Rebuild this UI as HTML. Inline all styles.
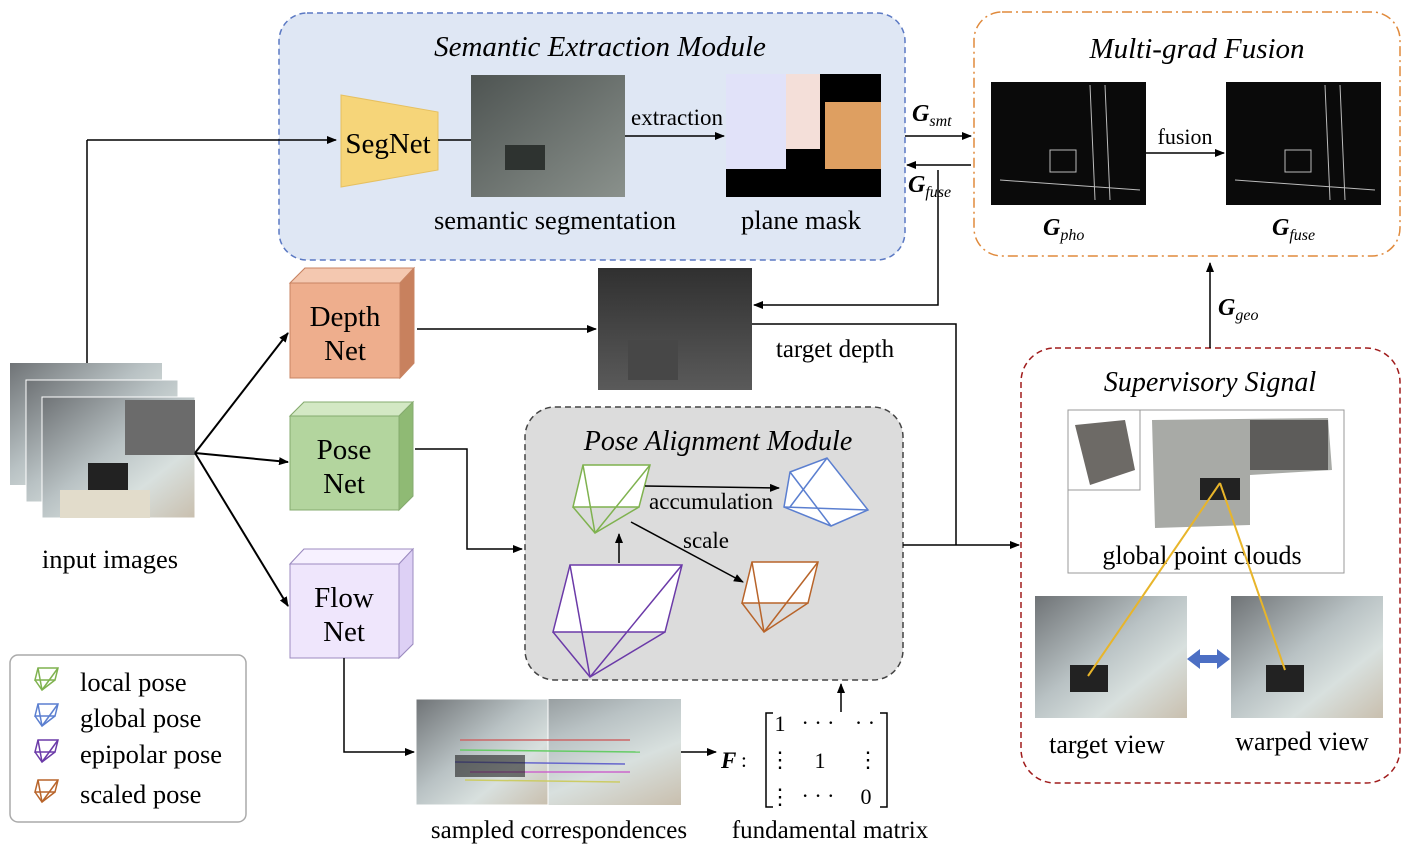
<!DOCTYPE html>
<html><head><meta charset="utf-8"><style>
html,body{margin:0;padding:0;background:#fff;}
svg{display:block;font-family:"Liberation Serif",serif;}
</style></head><body>
<svg width="1417" height="849" viewBox="0 0 1417 849" xmlns="http://www.w3.org/2000/svg">
<defs>
<marker id="a" markerWidth="10" markerHeight="8" refX="9" refY="4" orient="auto" markerUnits="userSpaceOnUse"><path d="M0,0 L10,4 L0,8 z" fill="#000"/></marker>
<linearGradient id="room" x1="0" y1="0" x2="1" y2="1"><stop offset="0" stop-color="#6f7376"/><stop offset="0.45" stop-color="#b9c2c4"/><stop offset="0.7" stop-color="#d8e0de"/><stop offset="1" stop-color="#c9bfae"/></linearGradient>
<linearGradient id="dep" x1="0" y1="0" x2="0" y2="1"><stop offset="0" stop-color="#303030"/><stop offset="1" stop-color="#5a5a5a"/></linearGradient>
<linearGradient id="seg" x1="0" y1="0" x2="1" y2="1"><stop offset="0" stop-color="#4e5452"/><stop offset="1" stop-color="#8a918c"/></linearGradient>
</defs>

<rect x="279" y="13" width="626" height="247" rx="28" fill="#dfe7f4" stroke="#5b79c3" stroke-width="1.5" stroke-dasharray="6,4"/>
<text x="600" y="56" font-size="29" font-style="italic" text-anchor="middle">Semantic Extraction Module</text>
<polygon points="341,95 438,112 438,170 341,187" fill="#f6d579" stroke="#e6c060"/>
<text x="388" y="153" font-size="29" text-anchor="middle">SegNet</text>
<line x1="438" y1="140" x2="471" y2="140" stroke="#000" stroke-width="1.5"/>
<rect x="471" y="75" width="154" height="122" fill="url(#seg)"/>
<rect x="505" y="145" width="40" height="25" fill="#2e3330"/>
<line x1="625" y1="136" x2="724" y2="136" stroke="#000" stroke-width="1.5" marker-end="url(#a)"/>
<text x="677" y="125" font-size="23" text-anchor="middle">extraction</text>
<rect x="726" y="74" width="155" height="123" fill="#000"/>
<rect x="726" y="74" width="60" height="95" fill="#e1e2f9"/>
<rect x="786" y="74" width="34" height="75" fill="#f4dfd9"/>
<rect x="825" y="102" width="56" height="67" fill="#de9f61"/>
<text x="555" y="229" font-size="26.5" text-anchor="middle">semantic segmentation</text>
<text x="801" y="229" font-size="26.5" text-anchor="middle">plane mask</text>

<rect x="974" y="12" width="426" height="244" rx="28" fill="#fff" stroke="#e08a3c" stroke-width="1.5" stroke-dasharray="10,4,2,4"/>
<text x="1197" y="58" font-size="29" font-style="italic" text-anchor="middle">Multi-grad Fusion</text>
<rect x="991" y="82" width="155" height="123" fill="#0a0a0a"/>
<rect x="1226" y="82" width="155" height="123" fill="#0a0a0a"/>
<g stroke="#bbb" stroke-width="1" fill="none"><rect x="1050" y="150" width="26" height="22"/><path d="M1090,85 L1095,200 M1105,85 L1110,200 M1000,180 L1140,190"/><rect x="1285" y="150" width="26" height="22"/><path d="M1325,85 L1330,200 M1340,85 L1345,200 M1235,180 L1375,190"/></g>
<line x1="1146" y1="153" x2="1224" y2="153" stroke="#000" stroke-width="1.5" marker-end="url(#a)"/>
<text x="1185" y="144" font-size="22" text-anchor="middle">fusion</text>
<text x="1043" y="235" font-size="24" font-weight="bold" font-style="italic">G<tspan font-size="16" font-weight="normal" dy="5">pho</tspan></text>
<text x="1272" y="235" font-size="24" font-weight="bold" font-style="italic">G<tspan font-size="16" font-weight="normal" dy="5">fuse</tspan></text>

<line x1="905" y1="136" x2="971" y2="136" stroke="#000" stroke-width="1.5" marker-end="url(#a)"/>
<text x="912" y="121" font-size="24" font-weight="bold" font-style="italic">G<tspan font-size="16" font-weight="normal" dy="5">smt</tspan></text>
<line x1="971" y1="165" x2="907" y2="165" stroke="#000" stroke-width="1.5" marker-end="url(#a)"/>
<text x="908" y="192" font-size="24" font-weight="bold" font-style="italic">G<tspan font-size="16" font-weight="normal" dy="5">fuse</tspan></text>
<polyline points="938,170 938,305 754,305" fill="none" stroke="#000" stroke-width="1.5" marker-end="url(#a)"/>

<rect x="10" y="363" width="152" height="122" fill="url(#room)"/>
<rect x="26" y="380" width="152" height="122" fill="url(#room)" stroke="#fff"/>
<rect x="42" y="397" width="153" height="121" fill="url(#room)" stroke="#fff"/>
<rect x="125" y="400" width="70" height="55" fill="#6b6b6b"/>
<rect x="88" y="463" width="40" height="28" fill="#222"/>
<rect x="60" y="490" width="90" height="28" fill="#e2dccb"/>
<text x="110" y="568" font-size="26.5" text-anchor="middle">input images</text>
<line x1="87" y1="363" x2="87" y2="140" stroke="#000" stroke-width="1.5"/>
<line x1="87" y1="140" x2="336" y2="140" stroke="#000" stroke-width="1.5" marker-end="url(#a)"/>
<line x1="195" y1="453" x2="288" y2="333" stroke="#000" stroke-width="2" marker-end="url(#a)"/>
<line x1="195" y1="453" x2="288" y2="462" stroke="#000" stroke-width="2" marker-end="url(#a)"/>
<line x1="195" y1="453" x2="288" y2="606" stroke="#000" stroke-width="2" marker-end="url(#a)"/>

<g>
<polygon points="290,283 305,268 414,268 414,363 400,378 290,378" fill="#eeae8d" stroke="#c88463"/>
<polygon points="290,283 305,268 414,268 400,283" fill="#f4c8b0" stroke="#c88463"/>
<polygon points="400,283 414,268 414,363 400,378" fill="#c8815e" stroke="#c88463"/>
<text x="345" y="326" font-size="29" text-anchor="middle">Depth</text><text x="345" y="360" font-size="29" text-anchor="middle">Net</text>
</g>
<g>
<polygon points="290,416 304,402 413,402 413,496 399,510 290,510" fill="#b3d59e" stroke="#86ab6f"/>
<polygon points="290,416 304,402 413,402 399,416" fill="#d3e8c4" stroke="#86ab6f"/>
<polygon points="399,416 413,402 413,496 399,510" fill="#8fba74" stroke="#86ab6f"/>
<text x="344" y="459" font-size="29" text-anchor="middle">Pose</text><text x="344" y="493" font-size="29" text-anchor="middle">Net</text>
</g>
<g>
<polygon points="290,564 304,549 413,549 413,644 399,658 290,658" fill="#efe6fc" stroke="#9c8bc0"/>
<polygon points="290,564 304,549 413,549 399,564" fill="#f7f1ff" stroke="#9c8bc0"/>
<polygon points="399,564 413,549 413,644 399,658" fill="#ddd0f5" stroke="#9c8bc0"/>
<text x="344" y="607" font-size="29" text-anchor="middle">Flow</text><text x="344" y="641" font-size="29" text-anchor="middle">Net</text>
</g>

<rect x="598" y="268" width="154" height="122" fill="url(#dep)"/>
<rect x="628" y="340" width="50" height="40" fill="#474747"/>
<line x1="417" y1="329" x2="596" y2="329" stroke="#000" stroke-width="1.5" marker-end="url(#a)"/>
<text x="835" y="357" font-size="25" text-anchor="middle">target depth</text>
<polyline points="752,324 956,324 956,545" fill="none" stroke="#000" stroke-width="1.5"/>

<rect x="525" y="407" width="378" height="273" rx="30" fill="#dcdcdc" stroke="#444" stroke-width="1.5" stroke-dasharray="6,4"/>
<text x="718" y="450" font-size="28" font-style="italic" text-anchor="middle">Pose Alignment Module</text>
<polyline points="415,449 467,449 467,549 522,549" fill="none" stroke="#000" stroke-width="1.5" marker-end="url(#a)"/>
<line x1="903" y1="545" x2="1019" y2="545" stroke="#000" stroke-width="1.5" marker-end="url(#a)"/>
<g fill="#fff" stroke-width="1.5">
<g stroke="#7fb24f"><polygon points="583,465 650,465 639,507 573,507"/><polyline points="573,507 595,533 639,507" fill="none"/><line x1="583" y1="465" x2="595" y2="533"/><line x1="650" y1="465" x2="595" y2="533"/></g>
<g stroke="#5b7fd0"><polygon points="790,472 827,458 868,510 831,526 784,507"/><line x1="790" y1="472" x2="831" y2="526"/><line x1="827" y1="458" x2="790" y2="507"/><line x1="784" y1="507" x2="868" y2="510"/></g>
<g stroke="#6b3aa8"><polygon points="570,565 682,565 665,632 553,632"/><polyline points="553,632 590,677 665,632" fill="none"/><line x1="570" y1="565" x2="590" y2="677"/><line x1="682" y1="565" x2="590" y2="677"/></g>
<g stroke="#b8642a"><polygon points="752,562 818,562 808,603 742,603"/><polyline points="742,603 764,632 808,603" fill="none"/><line x1="752" y1="562" x2="764" y2="632"/><line x1="818" y1="562" x2="764" y2="632"/></g>
</g>
<line x1="645" y1="486" x2="779" y2="488" stroke="#000" stroke-width="1.5" marker-end="url(#a)"/>
<text x="711" y="509" font-size="23" text-anchor="middle">accumulation</text>
<line x1="631" y1="522" x2="743" y2="582" stroke="#000" stroke-width="1.5" marker-end="url(#a)"/>
<text x="706" y="548" font-size="23" text-anchor="middle">scale</text>
<line x1="619" y1="563" x2="619" y2="534" stroke="#000" stroke-width="1.5" marker-end="url(#a)"/>
<line x1="841" y1="712" x2="841" y2="684" stroke="#000" stroke-width="1.5" marker-end="url(#a)"/>

<polyline points="344,658 344,752 414,752" fill="none" stroke="#000" stroke-width="1.5" marker-end="url(#a)"/>
<rect x="416" y="699" width="265" height="106" fill="url(#room)"/>
<rect x="416" y="699" width="132" height="106" fill="url(#room)" stroke="#fff"/>
<g stroke-width="1.5"><line x1="460" y1="740" x2="630" y2="740" stroke="#c66"/><line x1="460" y1="750" x2="640" y2="752" stroke="#6c6"/><line x1="455" y1="762" x2="625" y2="764" stroke="#66c"/><line x1="470" y1="772" x2="630" y2="772" stroke="#c6c"/><line x1="465" y1="780" x2="620" y2="782" stroke="#cc6"/></g>
<rect x="455" y="755" width="70" height="22" fill="#222" opacity="0.6"/>
<line x1="681" y1="752" x2="716" y2="752" stroke="#000" stroke-width="1.5" marker-end="url(#a)"/>
<text x="559" y="838" font-size="25" text-anchor="middle">sampled correspondences</text>
<text x="721" y="768" font-size="23" font-weight="bold" font-style="italic">F</text><text x="741" y="767" font-size="21">:</text>
<path d="M773,713 h-7 v94 h7 M880,713 h7 v94 h-7" fill="none" stroke="#000" stroke-width="1.5"/>
<g font-size="22" text-anchor="middle"><text x="780" y="731">1</text><text x="818" y="730">· · ·</text><text x="865" y="730">· ·</text><text x="780" y="767">⋮</text><text x="820" y="768">1</text><text x="868" y="767">⋮</text><text x="780" y="804">⋮</text><text x="818" y="803">· · ·</text><text x="866" y="804">0</text></g>
<text x="830" y="838" font-size="25" text-anchor="middle">fundamental matrix</text>

<rect x="1021" y="348" width="379" height="435" rx="34" fill="#fff" stroke="#a01c1c" stroke-width="1.5" stroke-dasharray="6,4"/>
<text x="1210" y="391" font-size="28" font-style="italic" text-anchor="middle">Supervisory Signal</text>
<line x1="1210" y1="348" x2="1210" y2="263" stroke="#000" stroke-width="1.5" marker-end="url(#a)"/>
<text x="1218" y="315" font-size="24" font-weight="bold" font-style="italic">G<tspan font-size="16" font-weight="normal" dy="5">geo</tspan></text>
<rect x="1068" y="410" width="276" height="163" fill="#fff" stroke="#999"/>
<rect x="1068" y="410" width="72" height="80" fill="#fff" stroke="#999"/>
<path d="M1075,425 L1125,420 L1135,470 L1090,485 Z" fill="#6d6a66"/>
<path d="M1152,420 L1328,418 L1332,470 L1250,475 L1250,525 L1155,528 Z" fill="#a8aaa6"/>
<rect x="1250" y="420" width="78" height="50" fill="#5d5c5a"/>
<rect x="1200" y="478" width="40" height="22" fill="#222"/>
<text x="1202" y="564" font-size="26" text-anchor="middle">global point clouds</text>
<rect x="1035" y="596" width="152" height="122" fill="url(#room)"/>
<rect x="1070" y="665" width="38" height="27" fill="#222"/>
<rect x="1231" y="596" width="152" height="122" fill="url(#room)"/>
<rect x="1266" y="665" width="38" height="27" fill="#222"/>
<polygon points="1187,659 1200,649 1200,655 1217,655 1217,649 1230,659 1217,669 1217,663 1200,663 1200,669" fill="#4c6fc4"/>
<g stroke="#e8b52a" stroke-width="2"><line x1="1088" y1="676" x2="1220" y2="483"/><line x1="1285" y1="670" x2="1220" y2="483"/></g>
<text x="1107" y="753" font-size="26" text-anchor="middle">target view</text>
<text x="1302" y="750" font-size="26" text-anchor="middle">warped view</text>

<rect x="10" y="655" width="236" height="167" rx="8" fill="#fff" stroke="#aaa" stroke-width="1.5"/>
<g fill="#fff" stroke-width="1.5">
<g stroke="#7fb24f"><polygon points="38,668 58,668 55,680 35,680"/><polyline points="35,680 42,690 55,680" fill="none"/><line x1="38" y1="668" x2="42" y2="690"/><line x1="58" y1="668" x2="42" y2="690"/></g>
<g stroke="#5b7fd0"><polygon points="38,704 58,704 55,716 35,716"/><polyline points="35,716 42,726 55,716" fill="none"/><line x1="38" y1="704" x2="42" y2="726"/><line x1="58" y1="704" x2="42" y2="726"/></g>
<g stroke="#6b3aa8"><polygon points="38,740 58,740 55,752 35,752"/><polyline points="35,752 42,762 55,752" fill="none"/><line x1="38" y1="740" x2="42" y2="762"/><line x1="58" y1="740" x2="42" y2="762"/></g>
<g stroke="#b8642a"><polygon points="38,780 58,780 55,792 35,792"/><polyline points="35,792 42,802 55,792" fill="none"/><line x1="38" y1="780" x2="42" y2="802"/><line x1="58" y1="780" x2="42" y2="802"/></g>
</g>
<g font-size="26.5"><text x="80" y="691">local pose</text><text x="80" y="727">global pose</text><text x="80" y="763">epipolar pose</text><text x="80" y="803">scaled pose</text></g>
</svg>
</body></html>
